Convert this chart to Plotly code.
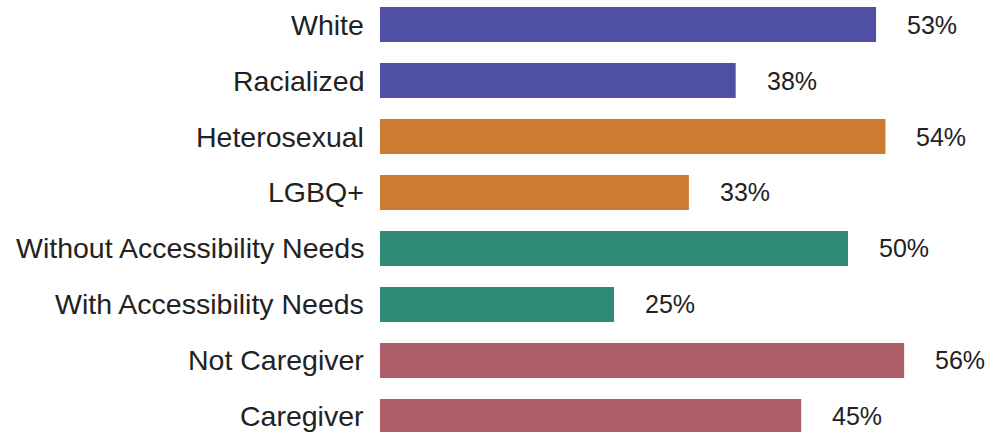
import plotly.graph_objects as go

categories = ["White", "Racialized", "Heterosexual", "LGBQ+",
              "Without Accessibility Needs", "With Accessibility Needs",
              "Not Caregiver", "Caregiver"]
values = [53, 38, 54, 33, 50, 25, 56, 45]
labels = ["53%", "38%", "54%", "33%", "50%", "25%", "56%", "45%"]
colors = ["#4f4fa6", "#4f4fa6", "#cd7b30", "#cd7b30",
          "#2f8a78", "#2f8a78", "#ad5e69", "#ad5e69"]

ypos = list(range(len(categories)))

fig = go.Figure()
fig.add_trace(go.Bar(
    x=values, y=ypos, orientation="h",
    marker=dict(color=colors, line=dict(width=0)),
    width=0.625, hoverinfo="skip",
))

for v, y, t in zip(values, ypos, labels):
    fig.add_annotation(x=v, y=y, text=t, showarrow=False,
                       xanchor="left", xshift=29,
                       font=dict(family="Liberation Sans, Arial", size=25, color="#222222"))

for c, y in zip(categories, ypos):
    fig.add_annotation(x=0, xref="paper", y=y, text=c, showarrow=False,
                       xanchor="right", xshift=-14,
                       font=dict(family="Liberation Sans, Arial", size=28.5, color="#222222"))

fig.update_layout(
    width=987, height=432,
    margin=dict(l=380, r=0, t=0, b=0),
    paper_bgcolor="white", plot_bgcolor="white",
    showlegend=False,
    xaxis=dict(range=[0, 607 / 9.36], visible=False, fixedrange=True),
    yaxis=dict(range=[7.277, -0.4375], showticklabels=False, showgrid=False,
               zeroline=False, showline=False, ticks=""),
)

fig.write_html("out.html")
